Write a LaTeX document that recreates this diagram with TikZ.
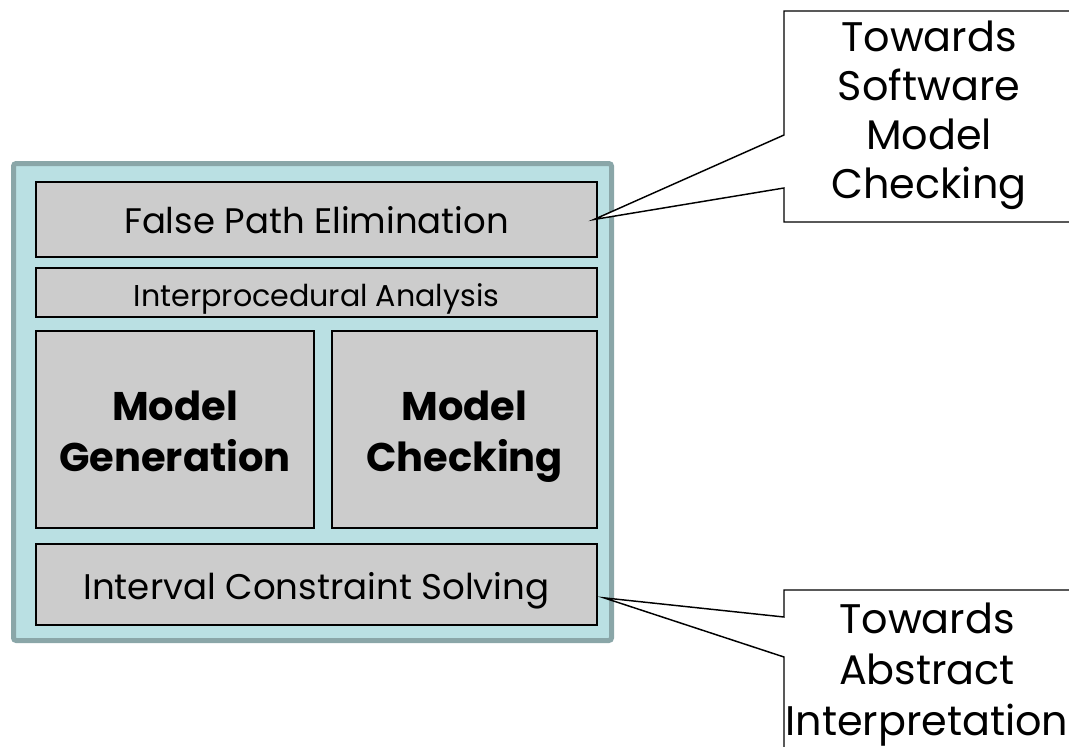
\documentclass[tikz,border=0pt]{standalone}
\usepackage{fontspec}
\setmainfont{Poppins}
\definecolor{outerfill}{RGB}{186,224,227}
\definecolor{outerline}{RGB}{138,166,168}
\definecolor{boxfill}{RGB}{204,204,204}
\begin{document}
\begin{tikzpicture}[x=0.75pt,y=-0.75pt,
  outerbox/.style={draw=outerline, fill=outerfill, line width=3.75pt, rounded corners=2pt, inner sep=0pt},
  blockbox/.style={draw=black, fill=boxfill, line width=1.4pt, inner sep=0pt, align=center, text depth=0pt},
  callout/.style={draw=black, fill=white, line width=1.1pt, line join=miter},
  calltext/.style={align=center, inner sep=0pt, anchor=base}
]
\useasboundingbox (0,0) rectangle (1069,746);
\clip (0,0) rectangle (1069,746);
\node[outerbox, minimum width=598*0.75pt, minimum height=477*0.75pt] (outer) at (312.5,402) {};
\node[blockbox, minimum width=561*0.75pt, minimum height=75*0.75pt, text height=20.25pt, font=\fontsize{26.6}{30}\selectfont] (fpe) at (316.5,219.5) {False Path Elimination};
\node[blockbox, minimum width=561*0.75pt, minimum height=49*0.75pt, text height=21.3pt, font=\fontsize{22.6}{26}\selectfont] (ipa) at (316.5,292.5) {Interprocedural Analysis};
\node[blockbox, minimum width=278*0.75pt, minimum height=197*0.75pt, text height=63.3pt, font=\fontsize{30}{38.25}\selectfont\bfseries] (mg) at (175,429.5) {Model\\Generation};
\node[blockbox, minimum width=265*0.75pt, minimum height=197*0.75pt, text height=63.3pt, font=\fontsize{30}{38.25}\selectfont\bfseries] (mc) at (464.5,429.5) {Model\\Checking};
\node[blockbox, minimum width=561*0.75pt, minimum height=81*0.75pt, text height=21.75pt, font=\fontsize{26.7}{30}\selectfont] (ics) at (316.5,584.5) {Interval Constraint Solving};
% callout 1
\coordinate (tip1) at ([xshift=-3pt]fpe.east);
\draw[callout] (1080,11) -- (784,11) -- (784,135) -- (tip1) -- (784,188) -- (784,222) -- (1080,222);
\node[calltext, font=\fontsize{31}{36.75}\selectfont] (c1) at (929,198) {Towards\\Software\\Model\\Checking};
% callout 2
\coordinate (tip2) at ([xshift=4.5pt,yshift=-10pt]ics.east);
\draw[callout] (1080,590) -- (784,590) -- (784,617) -- (tip2) -- (784,657) -- (784,760);
\node[calltext, font=\fontsize{31}{38.25}\selectfont] (c2) at (927,735) {Towards\\Abstract\\Interpretation};
\end{tikzpicture}
\end{document}
